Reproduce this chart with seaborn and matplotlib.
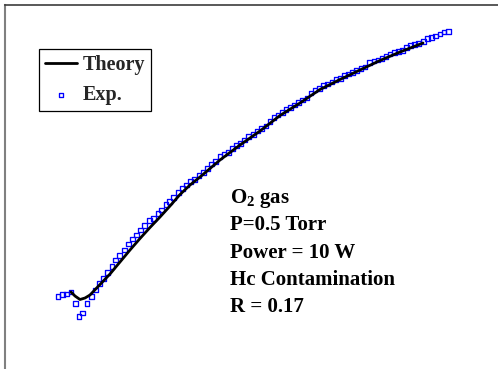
import matplotlib
matplotlib.use("Agg")
import matplotlib.pyplot as plt
import seaborn as sns
import pandas as pd

# Experimental optical emission points (arbitrary units)
x_exp = [58, 62.3, 66.3, 71, 75.3, 79, 82.7, 87, 91.7, 95.7, 99.7, 103.7, 107.7, 112,
         115.7, 119.7, 124.7, 128.7, 132.7, 136.7, 140.7, 144.7, 149.3, 153.7, 158,
         161.7, 166, 169.7, 173.7, 178.3, 182.7, 186.7, 190.7, 194.7, 199, 203.3,
         207.3, 211.3, 215.7, 220, 224, 228.7, 232.7, 236.3, 240.3, 244.7, 248.7,
         253.3, 257.7, 261.7, 266, 270, 274, 278, 282.3, 286, 290.3, 294.7, 298.7,
         302.7, 307, 311, 315, 319.3, 323.3, 327.7, 332, 336, 340.3, 344.3, 348.3,
         352.7, 356.7, 361, 365, 369.7, 374, 378, 382, 386, 390, 394.3, 398.3, 402.3,
         406.7, 410.7, 414.7, 418.7, 423.3, 427.7, 431.7, 435.7, 440, 444, 448.7]
y_exp = [72.7, 74.3, 75, 77, 65.3, 52.7, 56, 65.3, 72.7, 79, 85.7, 90.3, 96.7, 102.3,
         109, 113.3, 119, 125, 130, 134, 139, 143.3, 148.3, 150.7, 155.7, 159, 164.7,
         167.3, 171.3, 176.3, 180.7, 184, 187.3, 189.7, 193.3, 196.7, 200.7, 205,
         207.3, 212.3, 215, 216.3, 220.7, 223.3, 225.7, 229, 232.3, 234.3, 238, 240.7,
         243, 247.3, 251.3, 254, 256.7, 259.7, 261.7, 264, 266.7, 269, 271, 276, 279,
         280.7, 283.3, 285, 287, 289.7, 290.7, 293.7, 295, 296.3, 298.7, 300.3, 302,
         306.3, 308, 309, 310.3, 312.7, 315, 316.3, 317.3, 318.7, 321.3, 323.3, 324.7,
         325.3, 327.7, 330.7, 331.3, 333, 335, 337, 337.3]

# Model curve
x_theory = [71, 75, 80, 85, 90, 100, 110, 120, 130, 140, 150, 160, 170, 180, 190, 200,
            220, 240, 260, 280, 300, 320, 340, 360, 380, 400, 423]
y_theory = [77, 73, 69.5, 71, 74, 84.5, 95, 107, 119, 130.5, 141.5, 152, 163, 174.5,
            184, 192, 209, 224, 238, 253.5, 266, 279.5, 289.5, 299, 308.5, 317, 326]

conditions = ["O$_{\\mathbf{2}}$ gas", "P=0.5 Torr", "Power = 10 W",
              "Hc Contamination", "R = 0.17"]

sns.set_style("white")
plt.rcParams["font.family"] = ["Liberation Serif", "DejaVu Serif"]
plt.rcParams["mathtext.fontset"] = "custom"
plt.rcParams["mathtext.rm"] = "Liberation Serif:bold"
plt.rcParams["mathtext.bf"] = "Liberation Serif:bold"
plt.rcParams["mathtext.it"] = "Liberation Serif:bold"

W, H = 498, 369
fig = plt.figure(figsize=(W / 100, H / 100), dpi=100)
ax = fig.add_axes([5 / W, 0, 1 - 5 / W, 1 - 5 / H])

df_exp = pd.DataFrame({"x": x_exp, "y": y_exp})
df_th = pd.DataFrame({"x": x_theory, "y": y_theory})

sns.lineplot(data=df_th, x="x", y="y", ax=ax, color="black", linewidth=2.0,
             label="Theory", sort=False)
sns.scatterplot(data=df_exp, x="x", y="y", ax=ax, marker="s", s=12,
                facecolor="none", edgecolor="#0000ff", linewidth=0.95,
                label="Exp.")

ax.set_xlim(5, 498)
ax.set_ylim(0, 364)
ax.set_xticks([])
ax.set_yticks([])
ax.set_xlabel("")
ax.set_ylabel("")

for side in ("right", "bottom"):
    ax.spines[side].set_visible(False)
ax.spines["top"].set_color("#3c3c3c")
ax.spines["top"].set_linewidth(1.2)
ax.spines["left"].set_color("#808080")
ax.spines["left"].set_linewidth(1.5)

leg = ax.legend(loc="upper left", bbox_to_anchor=(39 / W, 1 - 49 / H),
                bbox_transform=fig.transFigure, borderaxespad=0,
                prop={"family": "Liberation Serif", "weight": "bold", "size": 14.5},
                frameon=True, fancybox=False, framealpha=1, edgecolor="black",
                handlelength=1.6, handletextpad=0.25, borderpad=0.3,
                labelspacing=0.5, markerscale=0.85)
leg.get_frame().set_linewidth(0.9)

baselines = [166, 139, 111, 84, 57]
for txt, yb in zip(conditions, baselines):
    ax.text(230, yb, txt, fontsize=15, fontweight="bold", color="black",
            family="Liberation Serif", va="baseline", ha="left")

fig.savefig("out.png", dpi=100)
